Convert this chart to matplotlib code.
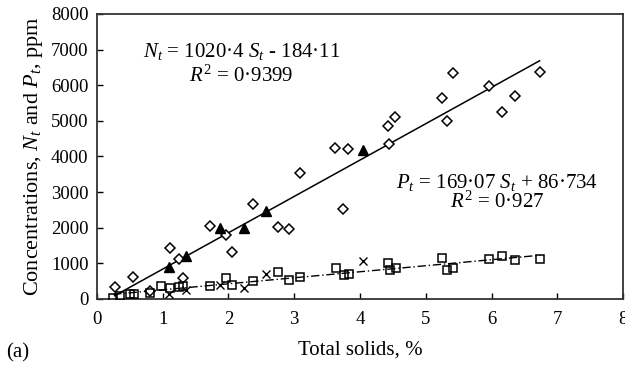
import numpy as np
import matplotlib
matplotlib.use("Agg")
import matplotlib.pyplot as plt

plt.rcParams["font.family"] = "Liberation Serif"
plt.rcParams["mathtext.fontset"] = "custom"
plt.rcParams["mathtext.rm"] = "Liberation Serif"
plt.rcParams["mathtext.it"] = "Liberation Serif:italic"

# total N, individual samples (open diamonds)
n_x = [0.27, 0.55, 0.81, 1.11, 1.25, 1.31, 1.72, 1.96, 2.06, 2.38, 2.76, 2.92, 3.09,
       3.62, 3.74, 3.82, 4.44, 4.43, 4.53, 5.25, 5.33, 5.42, 5.96, 6.16, 6.36, 6.73]
n_y = [345, 626, 230, 1440, 1123, 580, 2050, 1787, 1328, 2667, 2030, 1956, 3528,
       4248, 2535, 4220, 4342, 4856, 5118, 5652, 4997, 6335, 5988, 5240, 5708, 6382]

# total N, second sample set (filled triangles)
n2_x = [1.10, 1.36, 1.87, 2.23, 2.57, 4.04]
n2_y = [900, 1210, 1993, 1993, 2470, 4182]

# total P, individual samples (open squares)
p_x = [0.25, 0.35, 0.50, 0.57, 0.81, 0.97, 1.11, 1.25, 1.31, 1.72, 1.96, 2.06, 2.38,
       2.76, 2.92, 3.09, 3.63, 3.75, 3.83, 4.43, 4.45, 4.54, 5.25, 5.33, 5.41,
       5.96, 6.16, 6.36, 6.74]
p_y = [37, 93, 140, 140, 160, 365, 300, 345, 360, 365, 598, 393, 505,
       767, 533, 626, 870, 660, 690, 1002, 814, 879, 1142, 814, 861,
       1114, 1207, 1095, 1114]

# total P, second sample set (crosses)
p2_x = [1.10, 1.36, 1.87, 2.23, 2.57, 4.04]
p2_y = [140, 253, 393, 300, 693, 1067]

# fitted trend lines
n_slope, n_icpt = 1020.4, -184.11
p_slope, p_icpt = 169.07, 86.734

fig = plt.figure(figsize=(6.25, 3.65), dpi=100)
ax = fig.add_axes([0.155, 0.181, 0.842, 0.781])

xs = np.array([min(n_x), max(n_x)])
ax.plot(xs, n_slope * xs + n_icpt, color="black", lw=1.1, zorder=2)
xs = np.array([min(p_x), max(p_x)])
ax.plot(xs, p_slope * xs + p_icpt, color="black", lw=1.0,
        linestyle=(0, (6, 2, 1, 2)), zorder=2)

ax.plot(n_x, n_y, linestyle="none", marker="D", markersize=5,
        markerfacecolor="white", markeredgecolor="black", markeredgewidth=1.1, zorder=3)
ax.plot(n2_x, n2_y, linestyle="none", marker="^", markersize=6.5,
        color="black", zorder=4)
ax.plot(p_x, p_y, linestyle="none", marker="s", markersize=5.5,
        markerfacecolor="none", markeredgecolor="black", markeredgewidth=1.1, zorder=3)
ax.plot(p2_x, p2_y, linestyle="none", marker="x", markersize=6,
        color="black", markeredgewidth=1.0, zorder=4)

ax.set_xlim(0, 8)
ax.set_ylim(0, 8000)
ax.set_xticks(range(0, 9))
ax.set_yticks(range(0, 8001, 1000))
ax.tick_params(direction="in", length=4, width=1, labelsize=13.5,
               top=False, right=False)
ax.tick_params(axis="x", pad=9)
ax.tick_params(axis="y", pad=6)
for sp in ax.spines.values():
    sp.set_linewidth(1.3)
    sp.set_color("#333333")

ax.text(2.2, 6933, r"$N_t$ = 1020·4 $S_t$ - 184·11", fontsize=15, ha="center", va="center")
ax.text(2.2, 6260, r"$R^2$ = 0·9399", fontsize=15, ha="center", va="center")
ax.text(6.08, 3256, r"$P_t$ = 169·07 $S_t$ + 86·734", fontsize=15, ha="center", va="center")
ax.text(6.08, 2723, r"$R^2$ = 0·927", fontsize=15, ha="center", va="center")

ax.set_xlabel("Total solids, %", fontsize=15, labelpad=9)
ax.set_ylabel(r"Concentrations, $N_t$ and $P_t$, ppm", fontsize=16, labelpad=4)
fig.text(0.01, 0.02, "(a)", fontsize=15)

fig.savefig("out.png", dpi=100)
